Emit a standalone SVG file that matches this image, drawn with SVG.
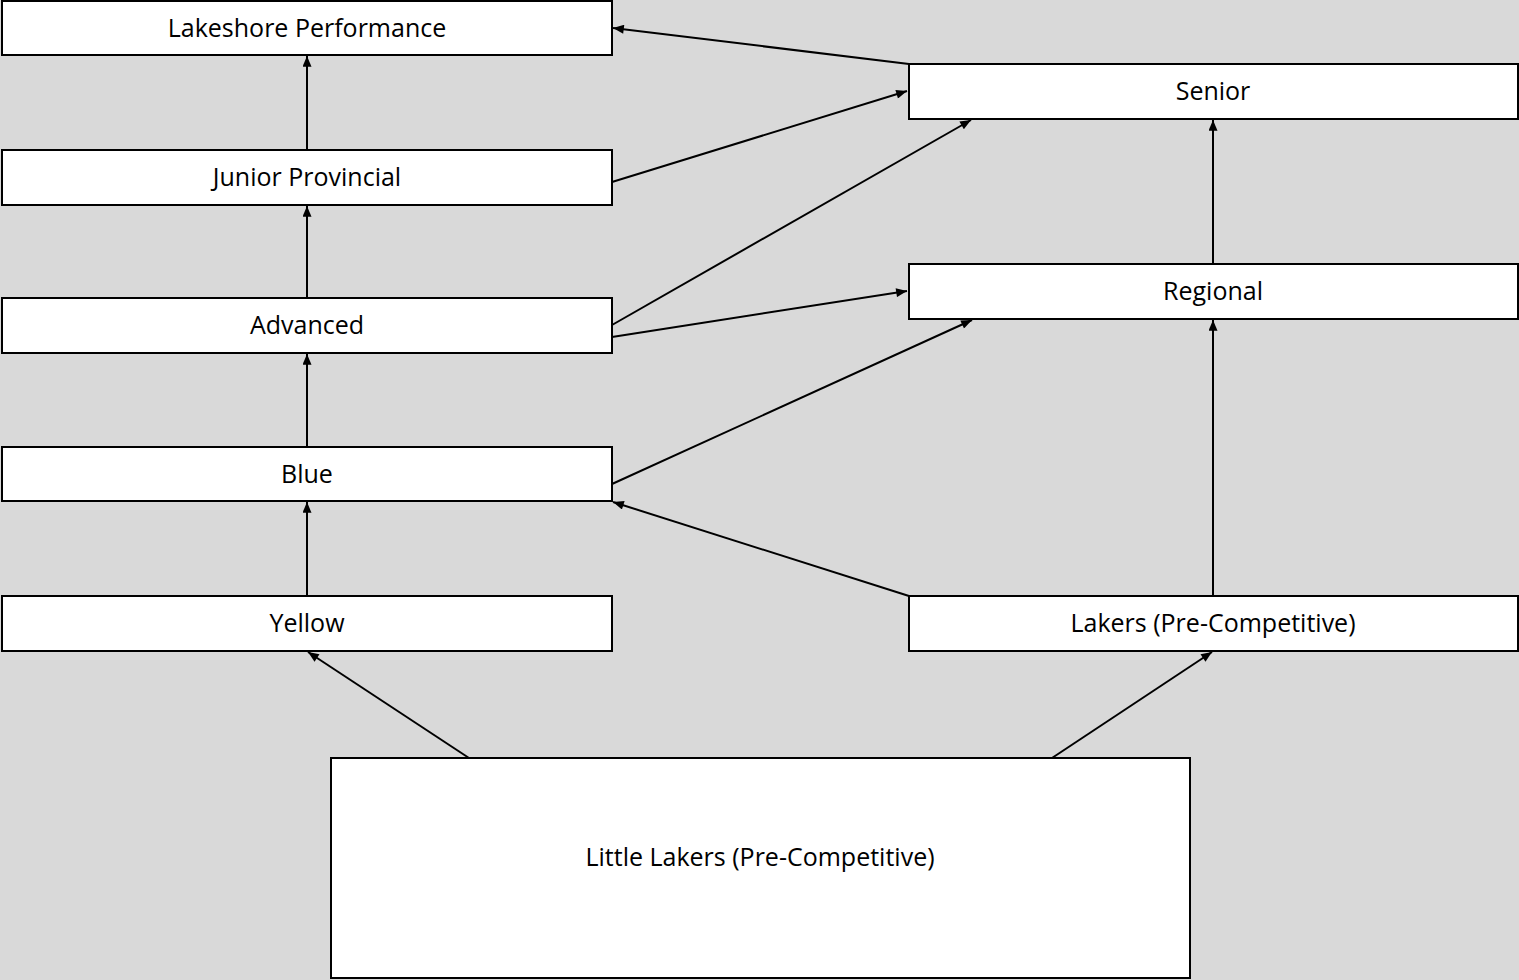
<svg xmlns="http://www.w3.org/2000/svg" width="1519" height="980" viewBox="0 0 1519 980">
<defs>
<marker id="ah" viewBox="0 0 12 10" refX="12" refY="5" markerWidth="12" markerHeight="9" markerUnits="userSpaceOnUse" orient="auto">
<path d="M0,0 L12,5 L0,10 z" fill="#000"/>
</marker>
<style>
.box{fill:#fff;stroke:#000;stroke-width:2}
.lbl{font-family:"Open Sans","Liberation Sans",sans-serif;font-size:25px;fill:#000;text-anchor:middle;dominant-baseline:central}
.c{stroke:#000;stroke-width:2;fill:none;marker-end:url(#ah)}
</style>
</defs>
<rect width="1519" height="980" fill="#d9d9d9"/>
<g id="connectors">
<line class="c" x1="909" y1="64" x2="613" y2="28"/>
<line class="c" x1="612" y1="182" x2="907" y2="91"/>
<line class="c" x1="612" y1="325" x2="971" y2="120"/>
<line class="c" x1="612" y1="337" x2="907" y2="291"/>
<line class="c" x1="612" y1="484" x2="972" y2="320"/>
<line class="c" x1="909" y1="596" x2="613" y2="502"/>
<line class="c" x1="1213" y1="596" x2="1213" y2="320"/>
<line class="c" x1="1213" y1="264" x2="1213" y2="120"/>
<line class="c" x1="307" y1="150" x2="307" y2="56"/>
<line class="c" x1="307" y1="298" x2="307" y2="206"/>
<line class="c" x1="307" y1="447" x2="307" y2="354"/>
<line class="c" x1="307" y1="596" x2="307" y2="502"/>
<line class="c" x1="469" y1="758" x2="308" y2="652"/>
<line class="c" x1="1052" y1="758" x2="1212" y2="652"/>
</g>
<g id="lakeshore"><rect class="box" x="2" y="1" width="610" height="54"/><text class="lbl" x="307" y="27">Lakeshore Performance</text></g>
<g id="junior"><rect class="box" x="2" y="150" width="610" height="55"/><text class="lbl" x="307" y="176">Junior Provincial</text></g>
<g id="advanced"><rect class="box" x="2" y="298" width="610" height="55"/><text class="lbl" x="307" y="324">Advanced</text></g>
<g id="blue"><rect class="box" x="2" y="447" width="610" height="54"/><text class="lbl" x="307" y="473">Blue</text></g>
<g id="yellow"><rect class="box" x="2" y="596" width="610" height="55"/><text class="lbl" x="307" y="622">Yellow</text></g>
<g id="senior"><rect class="box" x="909" y="64" width="609" height="55"/><text class="lbl" x="1213" y="90">Senior</text></g>
<g id="regional"><rect class="box" x="909" y="264" width="609" height="55"/><text class="lbl" x="1213" y="290">Regional</text></g>
<g id="lakers"><rect class="box" x="909" y="596" width="609" height="55"/><text class="lbl" x="1213" y="622">Lakers (Pre-Competitive)</text></g>
<g id="littlelakers"><rect class="box" x="331" y="758" width="859" height="220"/><text class="lbl" x="760" y="856">Little Lakers (Pre-Competitive)</text></g>
</svg>
